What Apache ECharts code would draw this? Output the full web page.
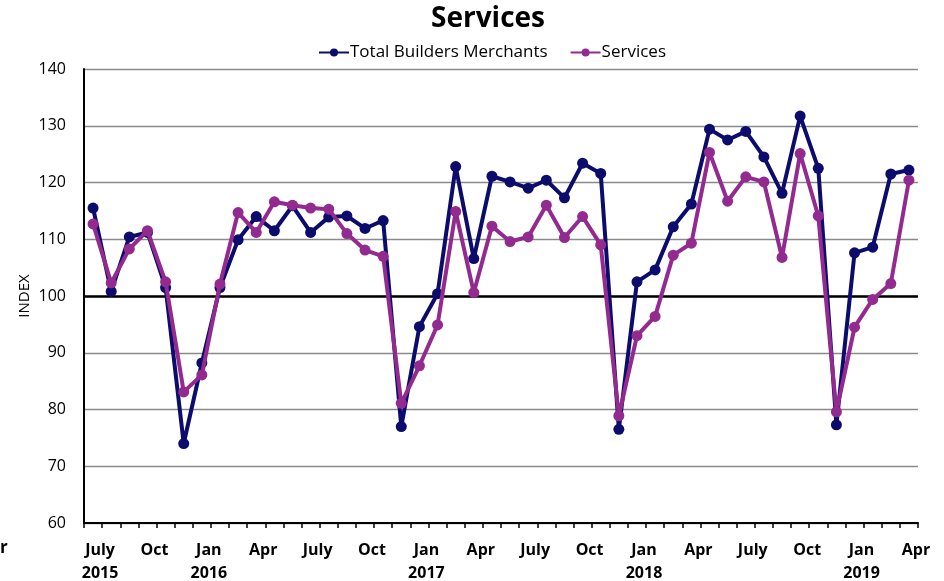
<!DOCTYPE html>
<html>
<head>
<meta charset="utf-8">
<script src="https://cdn.jsdelivr.net/npm/echarts@6/dist/echarts.min.js"></script>
<style>
html,body{margin:0;padding:0;background:#fff;}
#chart{width:944px;height:581px;}
</style>
</head>
<body>
<div id="chart"></div>
<script>
const months = ['Jul 2015','Aug 2015','Sep 2015','Oct 2015','Nov 2015','Dec 2015',
  'Jan 2016','Feb 2016','Mar 2016','Apr 2016','May 2016','Jun 2016','Jul 2016','Aug 2016','Sep 2016','Oct 2016','Nov 2016','Dec 2016',
  'Jan 2017','Feb 2017','Mar 2017','Apr 2017','May 2017','Jun 2017','Jul 2017','Aug 2017','Sep 2017','Oct 2017','Nov 2017','Dec 2017',
  'Jan 2018','Feb 2018','Mar 2018','Apr 2018','May 2018','Jun 2018','Jul 2018','Aug 2018','Sep 2018','Oct 2018','Nov 2018','Dec 2018',
  'Jan 2019','Feb 2019','Mar 2019','Apr 2019'];

const tickLabels = {
  'Jul 2015':'July\n2015','Oct 2015':'Oct','Jan 2016':'Jan\n2016','Apr 2016':'Apr',
  'Jul 2016':'July','Oct 2016':'Oct','Jan 2017':'Jan\n2017','Apr 2017':'Apr',
  'Jul 2017':'July','Oct 2017':'Oct','Jan 2018':'Jan\n2018','Apr 2018':'Apr',
  'Jul 2018':'July','Oct 2018':'Oct','Jan 2019':'Jan\n2019','Apr 2019':'Apr'
};

const totalBuildersMerchants = [115.5,100.8,110.4,111.2,101.5,74.0,
  88.2,101.5,109.9,114.0,111.5,115.9,111.2,113.9,114.1,111.9,113.3,77.0,
  94.6,100.4,122.8,106.6,121.1,120.1,119.0,120.4,117.3,123.4,121.6,76.5,
  102.5,104.6,112.2,116.2,129.4,127.5,129.0,124.5,118.1,131.7,122.5,77.3,
  107.6,108.6,121.5,122.2];

const services = [112.7,102.3,108.3,111.5,102.5,83.1,
  86.1,102.1,114.7,111.2,116.6,116.0,115.5,115.3,111.0,108.1,107.0,81.1,
  87.7,94.9,114.9,100.6,112.3,109.6,110.4,116.0,110.3,114.0,109.0,78.9,
  93.0,96.4,107.2,109.3,125.3,116.7,121.0,120.1,106.8,125.1,114.1,79.6,
  94.5,99.4,102.2,120.4];

const yTicks = [60,70,80,90,100,110,120,130,140];

const NAVY = '#0c0c6c';
const PURPLE = '#932a8f';
const FONT = '"Open Sans", "Noto Sans", sans-serif';

const chart = echarts.init(document.getElementById('chart'));
chart.setOption({
  animation: false,
  backgroundColor: '#fff',
  textStyle: { fontFamily: FONT },
  title: {
    text: 'Services',
    left: 426,
    top: 0,
    textStyle: { fontFamily: FONT, fontSize: 28, fontWeight: 'bold', color: '#000' }
  },
  legend: {
    top: 39,
    left: 313,
    itemWidth: 30,
    itemHeight: 10,
    itemGap: 22,
    textStyle: { fontFamily: FONT, fontSize: 17, color: '#000', padding: [0,0,0,-4] },
    data: ['Total Builders Merchants','Services']
  },
  grid: { left: 84, right: 26, top: 69, bottom: 58, containLabel: false, outerBoundsMode: 'none' },
  xAxis: {
    type: 'category',
    data: months,
    boundaryGap: true,
    axisLine: { lineStyle: { color: '#000', width: 2 } },
    axisTick: { show: true, interval: 0, length: 5, lineStyle: { color: '#000', width: 1.5 } },
    axisLabel: {
      interval: 2,
      margin: 16,
      fontFamily: FONT,
      fontSize: 16,
      fontWeight: 'bold',
      color: '#000',
      lineHeight: 23,
      padding: [0,0,0,14],
      formatter: function (v) { return tickLabels[v] || ''; }
    },
    splitLine: { show: false }
  },
  yAxis: {
    type: 'value',
    min: 60,
    max: 140,
    interval: 10,
    name: 'INDEX',
    nameLocation: 'middle',
    nameRotate: 90,
    nameGap: 52,
    nameMoveOverlap: false,
    nameTextStyle: { fontFamily: FONT, fontSize: 15, color: '#000' },
    axisLine: { show: true, lineStyle: { color: '#000', width: 2 } },
    axisTick: { show: false },
    axisLabel: {
      margin: 18, fontFamily: FONT, fontSize: 16, color: '#000',
      formatter: function (v) { return yTicks.indexOf(v) >= 0 ? String(v) : ''; }
    },
    splitLine: { show: true, lineStyle: { color: '#8a8a8a', width: 1.3 } }
  },
  series: [
    {
      name: 'Total Builders Merchants',
      type: 'line',
      data: totalBuildersMerchants,
      symbol: 'circle',
      symbolSize: 11,
      lineStyle: { color: NAVY, width: 4 },
      itemStyle: { color: NAVY },
      z: 3,
      markLine: {
        silent: true,
        symbol: 'none',
        label: { show: false },
        lineStyle: { color: '#000', width: 2.5, type: 'solid' },
        data: [{ yAxis: 100 }],
        z: 1
      }
    },
    {
      name: 'Services',
      type: 'line',
      data: services,
      symbol: 'circle',
      symbolSize: 11,
      lineStyle: { color: PURPLE, width: 4 },
      itemStyle: { color: PURPLE },
      z: 4
    }
  ],
  graphic: [
    { type: 'text', left: 0, top: 540, style: { text: 'r', font: 'bold 17px ' + FONT, fill: '#000' } }
  ]
});
</script>
</body>
</html>
